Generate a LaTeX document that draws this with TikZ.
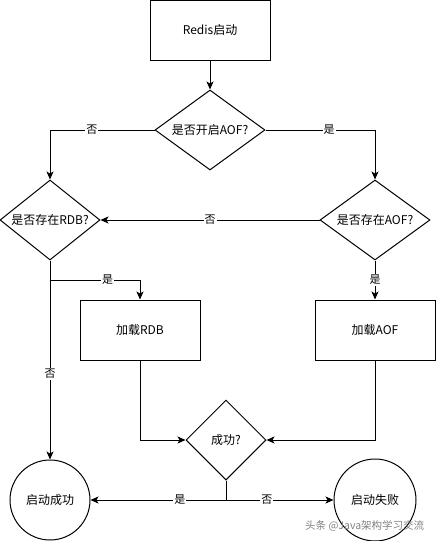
\documentclass[tikz,border=0pt]{standalone}
\usepackage{fontspec}
\setmainfont{Noto Sans CJK SC}
\usetikzlibrary{shapes.geometric,arrows.meta}
\begin{document}
\begin{tikzpicture}[x=1pt,y=-1pt,
  line width=1pt,
  box/.style={draw, rectangle, minimum width=120pt, minimum height=60pt, inner sep=0pt, font=\fontsize{12}{14}\selectfont},
  dia/.style={draw, diamond, inner sep=0pt, label={[font=\fontsize{12}{14}\selectfont]center:#1}},
  circ/.style={draw, circle, minimum size=80pt, inner sep=0pt, font=\fontsize{12}{14}\selectfont},
  arr/.style={-{Stealth[length=8pt,width=7pt,inset=2pt]}},
  lbl/.style={fill=white, inner sep=1pt, font=\fontsize{11}{13}\selectfont}
]
\useasboundingbox (0,0) rectangle (436,541);
\node[box] (start) at (210,30) {Redis启动};
\node[dia={是否开启AOF?}, minimum width=110pt, minimum height=80pt] (q1) at (210,130) {};
\node[dia={是否存在RDB?}, minimum width=100pt, minimum height=80pt] (rdb) at (50,220) {};
\node[dia={是否存在AOF?}, minimum width=110pt, minimum height=80pt] (aof) at (375,220) {};
\node[box] (loadrdb) at (140,330) {加载RDB};
\node[box] (loadaof) at (375,330) {加载AOF};
\node[dia={成功?}, minimum width=80pt, minimum height=80pt] (succ) at (226,440) {};
\node[circ] (ok) at (50,500) {启动成功};
\node[circ, minimum size=82pt] (fail) at (375,500) {启动失败};
\coordinate (j1) at (50,280);
\coordinate (j2) at (226,500);

\draw[arr] (start) -- (q1);
\draw[arr] (q1.west) -| node[lbl, pos=0.3]{否} (rdb.north);
\draw[arr] (q1.east) -| node[lbl, pos=0.29]{是} (aof.north);
\draw[arr] (aof.west) -- node[lbl]{否} (rdb.east);
\draw[arr] (aof.south) -- node[lbl]{是} (loadaof.north);
\draw[arr] (rdb.south) -- node[lbl, pos=0.57]{否} (ok.north);
\draw[arr] (j1) -| node[lbl, pos=0.32]{是} (loadrdb.north);
\draw[arr] (loadrdb.south) |- (succ.west);
\draw[arr] (loadaof.south) |- (succ.east);
\draw (succ.south) -- (j2);
\draw[arr] (j2) -- node[lbl, pos=0.34]{是} (ok.east);
\draw[arr] (j2) -- node[lbl, pos=0.38]{否} (fail.west);
\node[anchor=east, text=gray, font=\fontsize{10.5}{12}\selectfont] (wm) at (428,526) {头条 @Java架构学习交流};
\end{tikzpicture}
\end{document}
